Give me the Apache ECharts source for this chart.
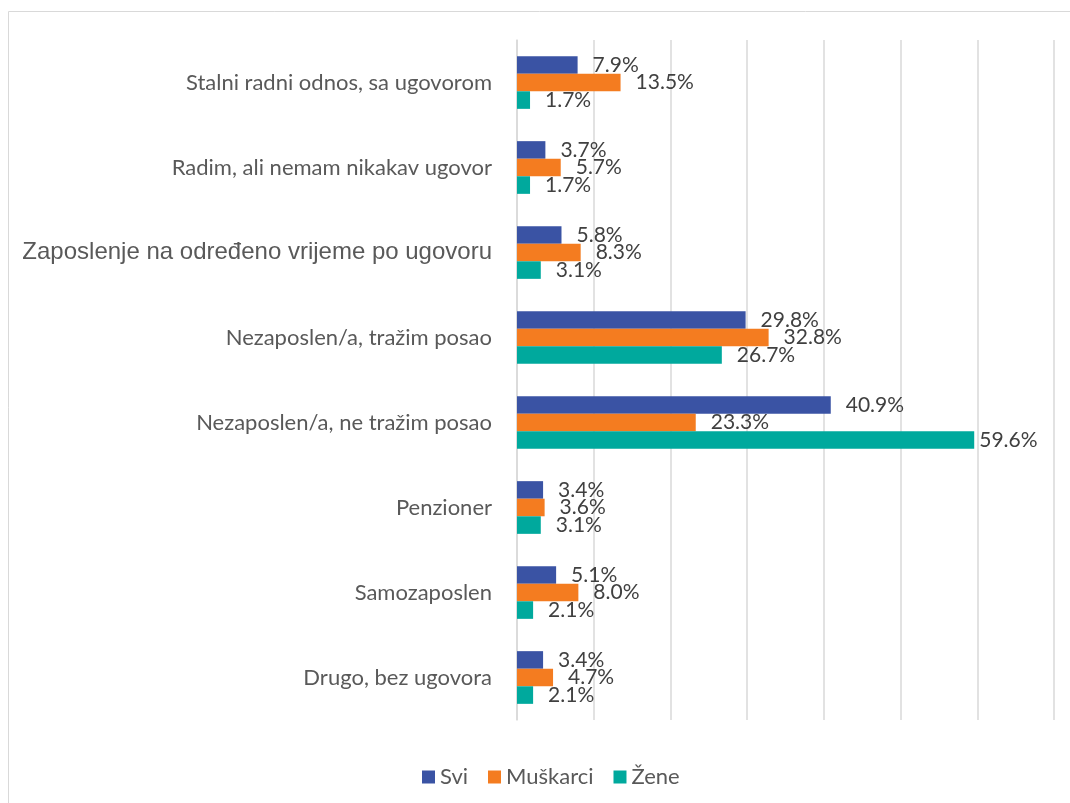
<!DOCTYPE html>
<html>
<head>
    <meta charset="UTF-8">
    <script src="https://cdn.jsdelivr.net/npm/echarts@6/dist/echarts.min.js"></script>
    <style>
        html, body { margin: 0; padding: 0; background: #fff; }
    </style>
</head>
<body>
<div id="chart" style="width: 1070px;height:803px;"></div>
<script type="text/javascript">
    var categories = [
        'Stalni radni odnos, sa ugovorom',
        'Radim, ali nemam nikakav ugovor',
        'Zaposlenje na određeno vrijeme po ugovoru',
        'Nezaposlen/a, tražim posao',
        'Nezaposlen/a, ne tražim posao',
        'Penzioner',
        'Samozaposlen',
        'Drugo, bez ugovora'
    ];
    var svi = [7.9, 3.7, 5.8, 29.8, 40.9, 3.4, 5.1, 3.4];
    var muskarci = [13.5, 5.7, 8.3, 32.8, 23.3, 3.6, 8.0, 4.7];
    var zene = [1.7, 1.7, 3.1, 26.7, 59.6, 3.1, 2.1, 2.1];

    var colors = ['#3A53A4', '#F47C20', '#00A99D'];

    function makeSeries(name, data) {
        return {
            name: name,
            type: 'bar',
            // labels near the right edge sit closer to the bar, like in the original
            data: data.map(function (v) {
                return v > 50 ? { value: v, label: { distance: 5 } } : v;
            }),
            barGap: '0%',
            barCategoryGap: '38%',
            label: {
                show: true,
                position: 'right',
                distance: 15,
                color: '#404040',
                fontFamily: 'Lato',
                fontSize: 21,
                formatter: function (p) { return p.value.toFixed(1) + '%'; }
            }
        };
    }

    var myChart = echarts.init(document.getElementById('chart'));
    var option = {
        color: colors,
        animation: false,
        graphic: [{
            type: 'rect',
            shape: { x: 8.5, y: 11.5, width: 1200, height: 1000 },
            style: { fill: 'none', stroke: '#d9d9d9', lineWidth: 1 },
            z: -10
        }],
        grid: {
            left: 517,
            right: 16,
            top: 40,
            bottom: 83
        },
        legend: {
            data: ['Svi', 'Muškarci', 'Žene'],
            left: 417,
            top: 761,
            icon: 'rect',
            itemWidth: 13,
            itemHeight: 13,
            itemGap: 20,
            textStyle: {
                color: '#595959',
                fontFamily: 'Lato',
                fontSize: 22
            }
        },
        xAxis: {
            type: 'value',
            min: 0,
            max: 70,
            interval: 10,
            axisLabel: { show: false },
            axisLine: { show: false },
            axisTick: { show: false },
            splitLine: { lineStyle: { color: '#d9d9d9', width: 1.5 } }
        },
        yAxis: {
            type: 'category',
            inverse: true,
            data: categories,
            axisLine: { show: true, lineStyle: { color: '#d9d9d9', width: 1.5 } },
            axisTick: { show: false },
            axisLabel: {
                margin: 25,
                color: '#595959',
                fontFamily: 'Lato',
                fontSize: 22,
                formatter: function (v) {
                    if (v.indexOf('Zaposlenje') === 0) return '{a|' + v + '}';
                    return v;
                },
                rich: {
                    a: { fontFamily: 'Liberation Sans', fontSize: 24, color: '#595959' }
                }
            }
        },
        series: [
            makeSeries('Svi', svi),
            makeSeries('Muškarci', muskarci),
            makeSeries('Žene', zene)
        ]
    };
    myChart.setOption(option);
</script>
</body>
</html>
